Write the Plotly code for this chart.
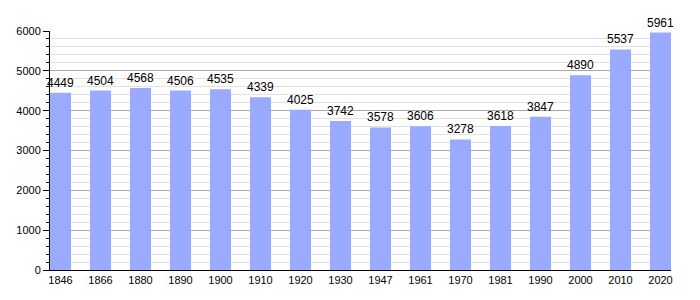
import plotly.graph_objects as go

years = ["1846", "1866", "1880", "1890", "1900", "1910", "1920", "1930", "1947",
         "1961", "1970", "1981", "1990", "2000", "2010", "2020"]
population = [4449, 4504, 4568, 4506, 4535, 4339, 4025, 3742, 3578,
              3606, 3278, 3618, 3847, 4890, 5537, 5961]

w = 0.525
fig = go.Figure(go.Bar(
    x=years, y=population,
    marker=dict(color="#99aaff", line=dict(width=0)),
    text=[str(v) for v in population],
    textposition="outside",
    constraintext="none",
    textfont=dict(family="Liberation Sans, Arial, sans-serif", size=12, color="black"),
    cliponaxis=False,
    width=w,
))

fig.update_layout(
    width=700, height=300,
    margin=dict(l=50, r=29, t=31, b=30),
    paper_bgcolor="white", plot_bgcolor="white",
    showlegend=False,
    font=dict(family="Liberation Sans, Arial, sans-serif", size=11, color="black"),
    xaxis=dict(
        type="category",
        range=[-w / 2, len(years) - 1 + w / 2],
        showline=True, linecolor="black", linewidth=1,
        ticks="", showgrid=False,
        tickfont=dict(size=11),
    ),
    yaxis=dict(
        range=[0, 6000], dtick=1000,
        showline=True, linecolor="black", linewidth=1,
        ticks="outside", ticklen=6, tickcolor="black",
        showgrid=True, gridcolor="#a8a8a8", gridwidth=1,
        zeroline=False,
        tickfont=dict(size=11),
        minor=dict(dtick=200, ticks="outside", ticklen=3, tickcolor="black",
                   showgrid=True, gridcolor="#e2e2e2", gridwidth=1),
    ),
)

fig.write_html("out.html")
